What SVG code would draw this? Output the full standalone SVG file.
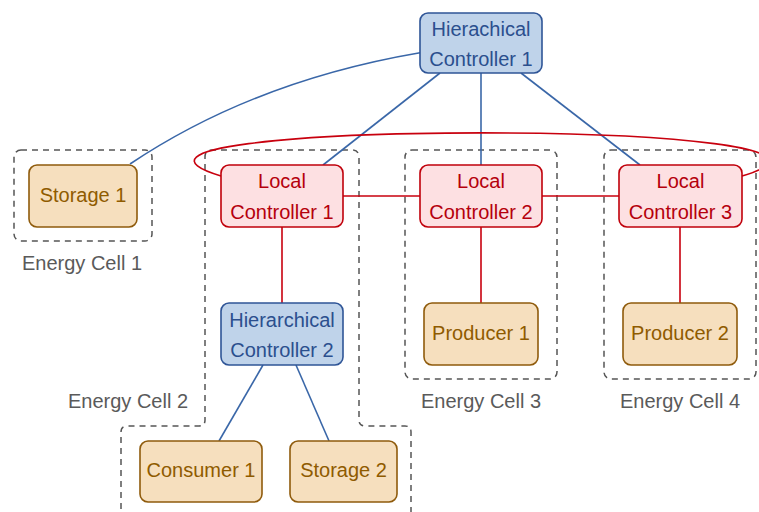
<svg xmlns="http://www.w3.org/2000/svg" width="759" height="512" viewBox="0 0 759 512">
<style>
text{font-family:"Liberation Sans",Arial,sans-serif;font-size:20px;text-anchor:middle}
.hc rect{fill:#bfd3ea;stroke:#2f5597;stroke-width:1.6}
.hc text{fill:#2b4f8e}
.lc rect{fill:#fde0e2;stroke:#c0000b;stroke-width:1.6}
.lc text{fill:#b5000d}
.dv rect{fill:#f6dfbe;stroke:#8f5b0c;stroke-width:1.6}
.dv text{fill:#8f5b00}
.cell{fill:none;stroke:#555;stroke-width:1.5;stroke-dasharray:6 5}
.lbl{fill:#5a5a5a}
.b{stroke:#3a67a8;stroke-width:1.6;fill:none}
.r{stroke:#c8000e;stroke-width:1.6;fill:none}
</style>
<g id="cells">
<rect id="cell1" class="cell" x="14" y="150" width="138" height="91" rx="7"/>
<path id="cell2" class="cell" d="M121,520 V432 Q121,426 127,426 H199 Q205,426 205,420 V157 Q205,150 212,150 H352 Q359,150 359,157 V420 Q359,426 365,426 H405 Q411,426 411,432 V520"/>
<rect id="cell3" class="cell" x="405" y="150" width="152" height="229" rx="7"/>
<rect id="cell4" class="cell" x="604" y="150" width="152" height="229" rx="7"/>
<text class="lbl" x="82" y="270">Energy Cell 1</text>
<text class="lbl" x="128" y="408">Energy Cell 2</text>
<text class="lbl" x="481" y="408">Energy Cell 3</text>
<text class="lbl" x="680" y="408">Energy Cell 4</text>
</g>
<g id="connectors">
<path class="b" d="M420,52.7 Q254,81 130,164"/>
<line class="b" x1="440" y1="73" x2="323" y2="165"/>
<line class="b" x1="481" y1="73" x2="481" y2="165"/>
<line class="b" x1="521" y1="73" x2="640" y2="165"/>
<line class="b" x1="263" y1="365" x2="219" y2="441"/>
<line class="b" x1="296" y1="365" x2="329" y2="441"/>
<line class="r" x1="282" y1="227" x2="282" y2="303"/>
<line class="r" x1="481" y1="227" x2="481" y2="303"/>
<line class="r" x1="680" y1="227" x2="680" y2="303"/>
<line class="r" x1="343" y1="196" x2="420" y2="196"/>
<line class="r" x1="542" y1="196" x2="619" y2="196"/>
<path class="r" d="M221,176 C30,118.5 933,118.5 742,176"/>
</g>
<g id="hc1" class="hc"><rect x="420" y="13" width="122" height="60" rx="8"/><text x="481" y="36">Hierachical</text><text x="481" y="66">Controller 1</text></g>
<g id="lc1" class="lc"><rect x="221" y="165" width="122" height="62" rx="8"/><text x="282" y="188">Local</text><text x="282" y="219">Controller 1</text></g>
<g id="lc2" class="lc"><rect x="420" y="165" width="122" height="62" rx="8"/><text x="481" y="188">Local</text><text x="481" y="219">Controller 2</text></g>
<g id="lc3" class="lc"><rect x="619" y="165" width="123" height="62" rx="8"/><text x="680.5" y="188">Local</text><text x="680.5" y="219">Controller 3</text></g>
<g id="storage1" class="dv"><rect x="29" y="165" width="108" height="62" rx="8"/><text x="83" y="202">Storage 1</text></g>
<g id="hc2" class="hc"><rect x="221" y="303" width="122" height="62" rx="8"/><text x="282" y="327">Hierarchical</text><text x="282" y="357">Controller 2</text></g>
<g id="producer1" class="dv"><rect x="424" y="303" width="114" height="62" rx="8"/><text x="481" y="340">Producer 1</text></g>
<g id="producer2" class="dv"><rect x="623" y="303" width="114" height="62" rx="8"/><text x="680" y="340">Producer 2</text></g>
<g id="consumer1" class="dv"><rect x="140" y="441" width="122" height="61" rx="8"/><text x="201" y="477">Consumer 1</text></g>
<g id="storage2" class="dv"><rect x="290" y="441" width="107" height="61" rx="8"/><text x="343.5" y="477">Storage 2</text></g>
</svg>
